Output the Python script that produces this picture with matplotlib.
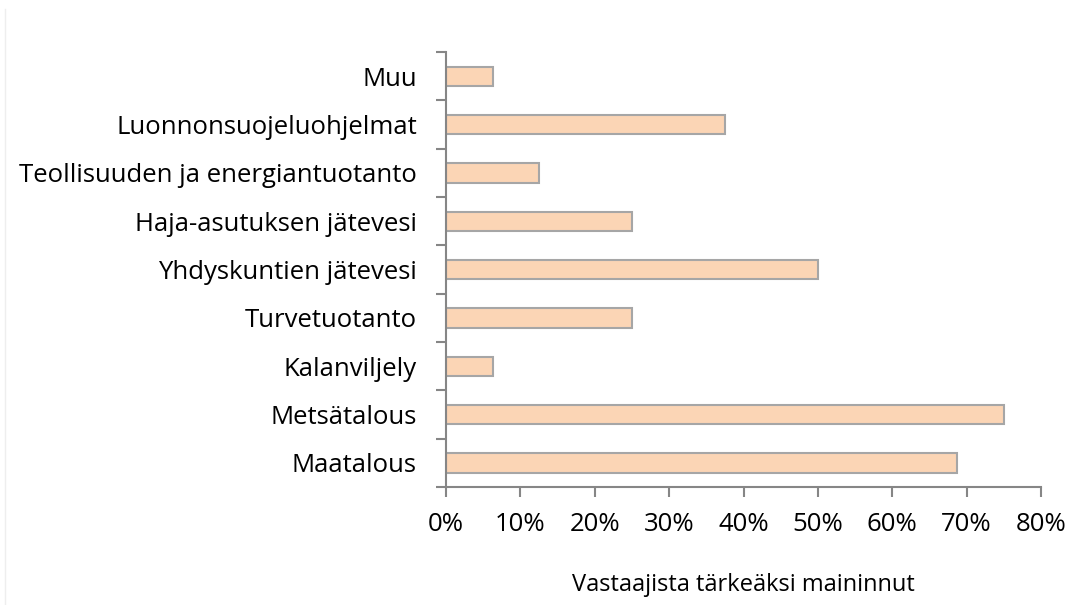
import matplotlib.pyplot as plt
from matplotlib.ticker import FixedLocator
from matplotlib.lines import Line2D

categories = ['Maatalous', 'Metsätalous', 'Kalanviljely', 'Turvetuotanto',
              'Yhdyskuntien jätevesi', 'Haja-asutuksen jätevesi',
              'Teollisuuden ja energiantuotanto', 'Luonnonsuojeluohjelmat', 'Muu']
values = [68.75, 75.0, 6.25, 25.0, 50.0, 25.0, 12.5, 37.5, 6.25]
xticks = [0, 10, 20, 30, 40, 50, 60, 70, 80]

plt.rcParams['font.family'] = ['Open Sans', 'DejaVu Sans']

fig = plt.figure(figsize=(10.71, 6.05), dpi=100)
ax = fig.add_axes([0.4165, 0.195, 0.5555, 0.719])

ypos = list(range(len(categories)))
ax.barh(ypos, values, height=0.4, color='#FBD5B5', edgecolor='#A6A6A6', linewidth=1.5)

ax.set_xlim(0, 80)
ax.set_ylim(-0.5, len(categories) - 0.5)
ax.set_xticks(xticks)
ax.set_xticklabels([f'{t}%' for t in xticks], fontsize=18.5)
ax.set_yticks(ypos)
ax.set_yticklabels(categories, fontsize=18.5)
ax.tick_params(axis='y', length=0, pad=21)
ax.yaxis.set_minor_locator(FixedLocator([i - 0.5 for i in range(len(categories) + 1)]))
ax.tick_params(axis='y', which='minor', length=7, width=1.5, color='#868686')
ax.tick_params(axis='x', length=7, width=1.5, color='#868686', pad=11)

for s in ['top', 'right']:
    ax.spines[s].set_visible(False)
for s in ['left', 'bottom']:
    ax.spines[s].set_color('#868686')
    ax.spines[s].set_linewidth(1.5)

ax.set_xlabel('Vastaajista tärkeäksi maininnut', fontsize=17, labelpad=26)

# faint frame line at left edge
fig.add_artist(Line2D([0.005, 0.005], [0.0, 0.985], color='#EEEEEE', linewidth=1))

fig.savefig('out.png', dpi=100, facecolor='white')
